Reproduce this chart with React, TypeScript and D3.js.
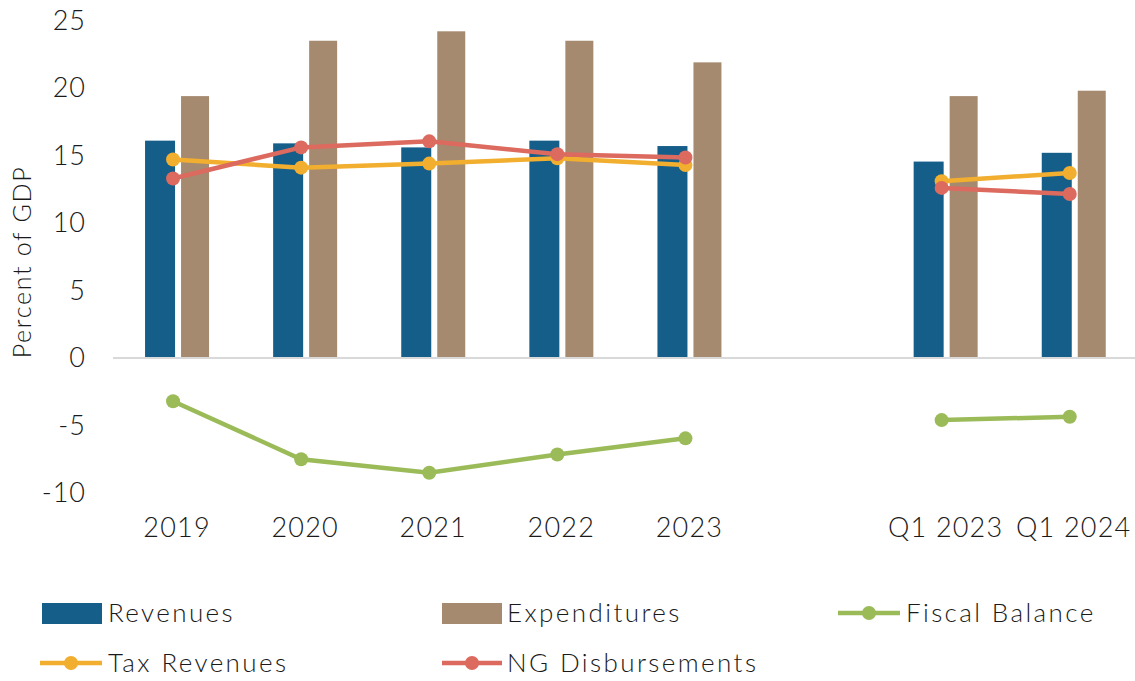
import React from "react";
import * as d3 from "d3";

const categories = ["2019", "2020", "2021", "2022", "2023", "", "Q1 2023", "Q1 2024"];
const revenues = [16.1, 15.9, 15.6, 16.1, 15.7, null, 14.55, 15.2];
const expenditures = [19.4, 23.5, 24.2, 23.5, 21.9, null, 19.4, 19.8];
const fiscalBalance = [-3.2, -7.5, -8.5, -7.15, -5.95, null, -4.6, -4.35];
const taxRevenues = [14.7, 14.1, 14.4, 14.8, 14.3, null, 13.1, 13.7];
const ngDisbursements = [13.3, 15.6, 16.05, 15.1, 14.85, null, 12.6, 12.15];
const yTicks = [-10, -5, 0, 5, 10, 15, 20, 25];

const C_REV = "#155e8a";
const C_EXP = "#a68a6f";
const C_FB = "#9bbb59";
const C_TAX = "#f2ae2e";
const C_NG = "#dc6a5e";
const FONT = "Lato, 'Open Sans', sans-serif";
const WEIGHT = 300;

export default function App() {
  const W = 1135;
  const H = 681;
  const keys = categories.map((c, i) => c || `blank${i}`);
  const x = d3.scaleBand<string>().domain(keys).range([113, 113 + 8 * 128.1]).padding(0);
  const y = d3.scaleLinear().domain([-10, 25]).range([493, 20.5]);
  const cx = (i: number) => (x(keys[i]) as number) + x.bandwidth() / 2;
  const lx = (i: number) => cx(i) - 4;

  const line = d3
    .line<number | null>()
    .defined((d) => d != null)
    .x((_, i) => lx(i))
    .y((d) => y(d as number));

  const series = [
    { data: fiscalBalance, color: C_FB },
    { data: taxRevenues, color: C_TAX },
    { data: ngDisbursements, color: C_NG },
  ];

  const legendText = {
    fontFamily: FONT,
    fontSize: 26,
    fontWeight: WEIGHT,
    fill: "#1a1a1a",
    letterSpacing: 2.4,
  } as const;

  return (
    <svg width={W} height={H} style={{ display: "block", position: "absolute", left: 0, top: 0 }}>
      <rect width={W} height={H} fill="#fff" />
      {/* bars */}
      {revenues.map((v, i) =>
        v == null ? null : (
          <rect key={`r${i}`} x={cx(i) - 32} width={30} y={y(v)} height={y(0) - y(v)} fill={C_REV} />
        )
      )}
      {expenditures.map((v, i) =>
        v == null ? null : (
          <rect key={`e${i}`} x={cx(i) + 4} width={28} y={y(v)} height={y(0) - y(v)} fill={C_EXP} />
        )
      )}
      {/* zero line */}
      <line x1={113} x2={W} y1={y(0)} y2={y(0)} stroke="#d9d9d9" strokeWidth={2} />
      {/* y ticks */}
      {yTicks.map((t) => (
        <text
          key={t}
          x={86}
          y={y(t)}
          dy="0.35em"
          textAnchor="end"
          fontFamily={FONT}
          fontWeight={WEIGHT}
          fontSize={27}
          letterSpacing={1}
          fill="#1a1a1a"
        >
          {t}
        </text>
      ))}
      <text
        transform={`translate(31,262) rotate(-90)`}
        textAnchor="middle"
        fontFamily={FONT}
        fontWeight={WEIGHT}
        fontSize={25}
        letterSpacing={1.7}
        fill="#1a1a1a"
      >
        Percent of GDP
      </text>
      {/* x labels */}
      {categories.map((c, i) =>
        c ? (
          <text
            key={c}
            x={cx(i)}
            y={528}
            dy="0.35em"
            textAnchor="middle"
            fontFamily={FONT}
            fontWeight={WEIGHT}
            fontSize={27}
            letterSpacing={1.2}
            fill="#1a1a1a"
          >
            {c}
          </text>
        ) : null
      )}
      {/* lines */}
      {series.map((s, k) => (
        <g key={k}>
          <path d={line(s.data) || ""} fill="none" stroke={s.color} strokeWidth={4.5} />
          {s.data.map((v, i) =>
            v == null ? null : <circle key={i} cx={lx(i)} cy={y(v)} r={7} fill={s.color} />
          )}
        </g>
      ))}
      {/* legend */}
      <rect x={42} y={603} width={60} height={21} fill={C_REV} />
      <text x={108} y={613} dy="0.35em" {...legendText}>Revenues</text>
      <rect x={442} y={603} width={60} height={21} fill={C_EXP} />
      <text x={507} y={613} dy="0.35em" {...legendText}>Expenditures</text>
      <line x1={838} x2={900} y1={613} y2={613} stroke={C_FB} strokeWidth={4.5} />
      <circle cx={869} cy={613} r={7} fill={C_FB} />
      <text x={906} y={613} dy="0.35em" {...legendText}>Fiscal Balance</text>
      <line x1={40} x2={102} y1={663} y2={663} stroke={C_TAX} strokeWidth={4.5} />
      <circle cx={71} cy={663} r={7} fill={C_TAX} />
      <text x={108} y={663} dy="0.35em" {...legendText}>Tax Revenues</text>
      <line x1={442} x2={502} y1={663} y2={663} stroke={C_NG} strokeWidth={4.5} />
      <circle cx={472} cy={663} r={7} fill={C_NG} />
      <text x={507} y={663} dy="0.35em" {...legendText}>NG Disbursements</text>
    </svg>
  );
}
